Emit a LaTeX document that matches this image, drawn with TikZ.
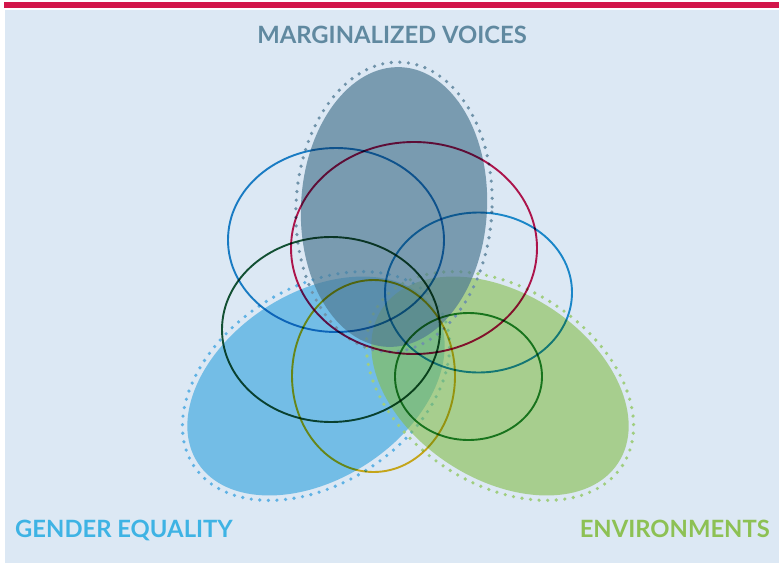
\documentclass[tikz,border=0pt]{standalone}
\usepackage{fontspec}
\setmainfont{Lato}

\definecolor{pagebg}{RGB}{220,232,244}
\definecolor{topbar}{RGB}{210,22,74}
\definecolor{voicefill}{RGB}{80,123,148}
\definecolor{voicedots}{RGB}{112,147,170}
\definecolor{voicetext}{RGB}{96,137,160}
\definecolor{genderfill}{RGB}{115,189,230}
\definecolor{genderdots}{RGB}{96,178,228}
\definecolor{gendertext}{RGB}{62,179,228}
\definecolor{envfill}{RGB}{132,190,74}
\definecolor{envdots}{RGB}{160,206,128}
\definecolor{envtext}{RGB}{141,193,84}
\definecolor{ringblue}{RGB}{30,136,204}
\definecolor{ringcrimson}{RGB}{200,23,79}
\definecolor{ringsky}{RGB}{31,148,210}
\definecolor{ringpine}{RGB}{22,88,54}
\definecolor{ringgold}{RGB}{228,182,28}
\definecolor{ringleaf}{RGB}{38,144,53}

\tikzset{
  ring/.style={line width=1.9pt, blend mode=multiply},
  dotline/.style={line width=3.6pt, line cap=round, dash pattern=on 0pt off 8.6pt},
  label/.style={font=\bfseries\fontsize{23.8}{26}\selectfont, inner sep=0pt}
}

\begin{document}
\begin{tikzpicture}[x=1pt, y=-1pt]
        \useasboundingbox (0,0) rectangle (779,563);
        \fill[white] (0,0) rectangle (779,563);
        \fill[pagebg] (5,9.5) rectangle (779,563);
        \fill[topbar] (4,1.5) rectangle (779,8);

        % the three fields
        \fill[genderfill] (316,386) ellipse [x radius=141, y radius=93, rotate=33];
        \draw[genderdots, dotline] (316,386) ellipse [x radius=146, y radius=98, rotate=33];
        \fill[envfill, fill opacity=0.6] (500,386) ellipse [x radius=141, y radius=93, rotate=-33];
        \draw[envdots, dotline] (500,386) ellipse [x radius=146, y radius=98, rotate=-33];
        \fill[voicefill, fill opacity=0.7] (394,207) ellipse [x radius=93, y radius=140, rotate=-3];
        \draw[voicedots, dotline] (394,207) ellipse [x radius=98, y radius=145, rotate=-3];

        % the rings
        \draw[ring, ringblue] (336,240) ellipse [x radius=108, y radius=92];
        \draw[ring, ringcrimson] (414,248) ellipse [x radius=123, y radius=106];
        \draw[ring, ringsky] (478.5,292.5) ellipse [x radius=93.5, y radius=80];
        \draw[ring, ringpine] (331,329.5) ellipse [x radius=109, y radius=92.5];
        \draw[ring, ringgold] (373.5,376) ellipse [x radius=81.5, y radius=96];
        \draw[ring, ringleaf] (468.5,376.5) ellipse [x radius=73.5, y radius=63.5];

        \node[label, text=voicetext, anchor=base] (voices) at (392,43) {MARGINALIZED VOICES};
        \node[label, text=gendertext, anchor=base west] (gender) at (15,537) {GENDER EQUALITY};
        \node[label, text=envtext, anchor=base east] (env) at (770,537) {ENVIRONMENTS};
\end{tikzpicture}
\end{document}
